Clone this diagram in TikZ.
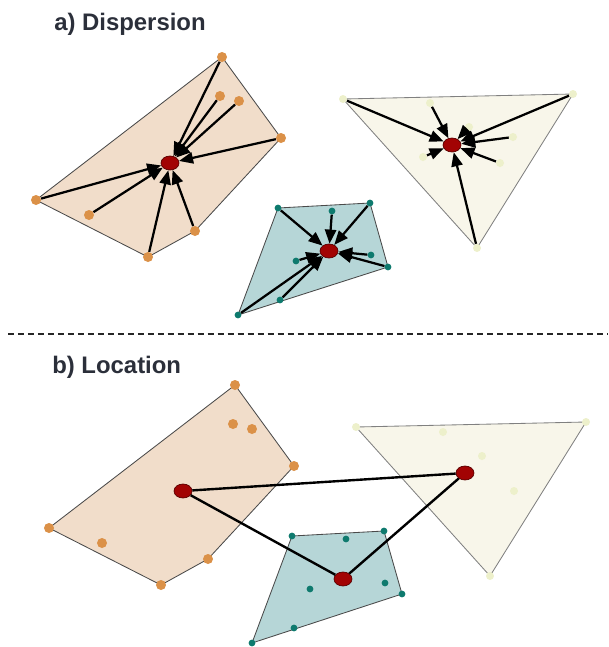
\documentclass[tikz,border=0pt]{standalone}
\usepackage{fontspec}
\setmainfont{Liberation Sans}
\usetikzlibrary{arrows.meta,shapes.geometric}
\definecolor{peach}{HTML}{F1DDCA}
\definecolor{peachdot}{HTML}{DB9148}
\definecolor{sea}{HTML}{B6D6D7}
\definecolor{seadot}{HTML}{0E7A6E}
\definecolor{cream}{HTML}{F8F6EA}
\definecolor{creamdot}{HTML}{EDF0CB}
\definecolor{ctrred}{HTML}{A20303}
\definecolor{ctrdark}{HTML}{5A0000}
\definecolor{hullgray}{HTML}{4A4A4A}
\definecolor{titlegray}{HTML}{2B2F3A}

\begin{document}
\begin{tikzpicture}[x=0.025cm,y=-0.025cm,>=Stealth]
\tikzset{
 hull/.style={draw=hullgray,line width=0.6pt},
 odot/.style={circle,fill=peachdot,inner sep=0pt,minimum size=0.25cm},
 sdot/.style={circle,fill=seadot,inner sep=0pt,minimum size=0.17cm},
 cdot/.style={circle,fill=creamdot,inner sep=0pt,minimum size=0.2cm},
 ctr/.style={ellipse,draw=ctrdark,fill=ctrred,line width=0.5pt,inner sep=0pt,minimum width=0.45cm,minimum height=0.35cm},
 pull/.style={-{Triangle[length=10pt,width=8pt]},line width=1.6pt},
 link/.style={line width=1.7pt},
 panel/.style={anchor=base west,inner sep=0pt,text=titlegray,font=\bfseries\fontsize{17}{20}\selectfont}
}
\useasboundingbox (0,0) rectangle (608,647);

% a) dispersion
\node[panel] (ta) at (54,30) {a) Dispersion};
\fill[peach] (222,57) -- (281,138) -- (195,231) -- (148,257) -- (36,200) -- cycle;
\draw[hull] (222,57) -- (281,138) -- (195,231) -- (148,257) -- (36,200) -- cycle;
\fill[cream] (343,99) -- (573,94) -- (477,248) -- cycle;
\draw[hull,draw=gray] (343,99) -- (573,94) -- (477,248) -- cycle;
\fill[sea] (278,208) -- (370,203) -- (388,267) -- (238,315) -- cycle;
\draw[hull] (278,208) -- (370,203) -- (388,267) -- (238,315) -- cycle;
\node[ctr] (oc) at (170,163) {};
\node[ctr] (cc) at (452,145) {};
\node[ctr] (sc) at (329,251) {};
\foreach \x/\y [count=\i] in {222/57,281/138,195/231,148/257,36/200,220/96,239/101,89/215} {
 \node[odot] (o\i) at (\x,\y) {};
 \draw[pull] (o\i) -- (oc);
}
\foreach \x/\y [count=\i] in {343/99,573/94,477/248,430/103,469/127,513/137,423/157,500/163} {
 \node[cdot] (c\i) at (\x,\y) {};
 \draw[pull] (c\i) -- (cc);
}
\foreach \x/\y [count=\i] in {278/208,370/203,388/267,238/315,332/211,296/261,371/255,280/300} {
 \node[sdot] (s\i) at (\x,\y) {};
 \draw[pull] (s\i) -- (sc);
}

\draw[line width=1.4pt,draw=black!85,dash pattern=on 4.3pt off 2.8pt] (8,334) -- (608,334);

% b) location
\node[panel] (tb) at (52,373) {b) Location};
\fill[peach] (235,385) -- (294,466) -- (208,559) -- (161,585) -- (49,528) -- cycle;
\draw[hull] (235,385) -- (294,466) -- (208,559) -- (161,585) -- (49,528) -- cycle;
\fill[cream] (356,427) -- (586,422) -- (490,576) -- cycle;
\draw[hull,draw=gray] (356,427) -- (586,422) -- (490,576) -- cycle;
\fill[sea] (292,536) -- (384,531) -- (402,594) -- (252,643) -- cycle;
\draw[hull] (292,536) -- (384,531) -- (402,594) -- (252,643) -- cycle;
\foreach \x/\y [count=\i] in {235/385,294/466,208/559,161/585,49/528,233/424,252/429,102/543}
 \node[odot] (bo\i) at (\x,\y) {};
\foreach \x/\y [count=\i] in {356/427,586/422,490/576,443/432,482/456,514/491}
 \node[cdot] (bc\i) at (\x,\y) {};
\foreach \x/\y [count=\i] in {292/536,384/531,402/594,252/643,346/539,310/589,385/583,294/628}
 \node[sdot] (bs\i) at (\x,\y) {};
\node[ctr] (boc) at (183,491) {};
\node[ctr] (bcc) at (465,473) {};
\node[ctr] (bsc) at (343,579) {};
\draw[link] (boc) -- (bcc);
\draw[link] (boc) -- (bsc);
\draw[link] (bsc) -- (bcc);
\end{tikzpicture}
\end{document}
